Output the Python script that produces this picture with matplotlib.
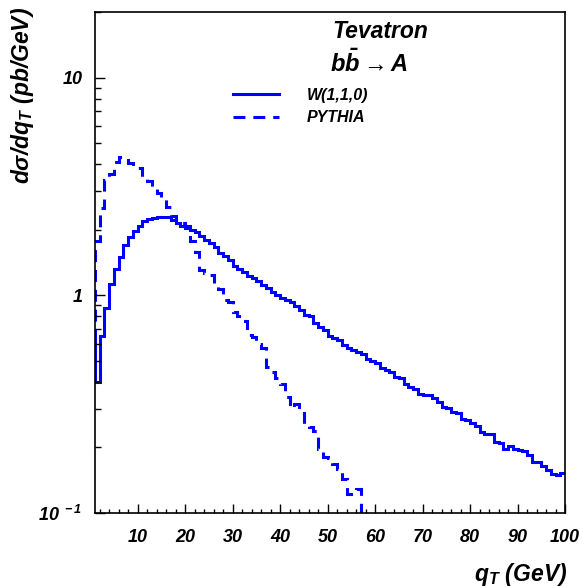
import numpy as np
import matplotlib
matplotlib.use("Agg")
import matplotlib.pyplot as plt
from matplotlib.ticker import FixedLocator, MultipleLocator, LogLocator, NullFormatter, FixedFormatter
from matplotlib.lines import Line2D

plt.rcParams['font.family'] = ['Liberation Sans', 'DejaVu Sans']
plt.rcParams['font.weight'] = 'bold'
plt.rcParams['font.style'] = 'italic'
plt.rcParams['mathtext.fontset'] = 'custom'
plt.rcParams['mathtext.rm'] = 'Liberation Sans:italic:bold'
plt.rcParams['mathtext.it'] = 'Liberation Sans:italic:bold'
plt.rcParams['mathtext.bf'] = 'Liberation Sans:italic:bold'

# bin edges in q_T (GeV), 1 GeV bins
edges_w = np.arange(0, 101)
# W(1,1,0) resummed, per 1-GeV bin starting at q_T = 0
w110 = [0.65, 0.40, 0.65, 0.87, 1.13, 1.32, 1.50, 1.70, 1.86, 1.98,
        2.09, 2.20, 2.24, 2.27, 2.29, 2.29, 2.29, 2.22, 2.14, 2.09,
        2.03, 1.99, 1.96, 1.88, 1.80, 1.74, 1.66, 1.56, 1.51, 1.45,
        1.36, 1.32, 1.28, 1.23, 1.20, 1.16, 1.11, 1.08, 1.03, 1.00,
        0.976, 0.948, 0.929, 0.897, 0.856, 0.812, 0.801, 0.745, 0.717, 0.692,
        0.652, 0.634, 0.622, 0.594, 0.574, 0.562, 0.546, 0.535, 0.507, 0.498,
        0.488, 0.461, 0.455, 0.445, 0.421, 0.418, 0.393, 0.381, 0.373, 0.352,
        0.350, 0.347, 0.336, 0.322, 0.307, 0.302, 0.291, 0.289, 0.271, 0.267,
        0.259, 0.252, 0.235, 0.231, 0.231, 0.213, 0.209, 0.197, 0.204, 0.196,
        0.194, 0.192, 0.184, 0.172, 0.172, 0.165, 0.158, 0.151, 0.150, 0.153]

# PYTHIA, per 1-GeV bin starting at q_T = 0
pythia = [0.65, 1.77, 2.52, 3.39, 3.60, 4.10, 4.32, 4.26, 4.06, 4.00,
          3.85, 3.50, 3.35, 3.10, 2.95, 2.77, 2.54, 2.31, 2.20, 2.15,
          2.08, 1.77, 1.58, 1.30, 1.26, 1.24, 1.10, 1.07, 0.95, 0.93,
          0.84, 0.80, 0.76, 0.66, 0.645, 0.595, 0.57, 0.47, 0.445, 0.415,
          0.393, 0.342, 0.302, 0.318, 0.289, 0.252, 0.249, 0.239, 0.197, 0.181,
          0.178, 0.168, 0.160, 0.144, 0.122, 0.122, 0.129, 0.085]
edges_p = np.arange(0, len(pythia) + 1)

labels = ['W(1,1,0)', 'PYTHIA']
xticks = [10, 20, 30, 40, 50, 60, 70, 80, 90, 100]
yticks = [0.1, 1, 10]
yticklabels = [r'$10^{\ -1}$', '1', '10']

blue = '#0000ff'
lw = 2.2
dash = (0, (3.9, 2.6))

fig = plt.figure(figsize=(5.84, 5.87), dpi=100)
ax = fig.add_axes([95/584, 74/587, 470/584, 501/587])

ax.stairs(w110, edges_w, baseline=None, color=blue, lw=lw, label=labels[0])
ax.stairs(pythia, edges_p, baseline=None, color=blue, lw=lw, linestyle=dash, label=labels[1])

ax.set_yscale('log')
ax.set_xlim(1, 100)
ax.set_ylim(0.1, 20)

ax.xaxis.set_major_locator(FixedLocator(xticks))
ax.xaxis.set_minor_locator(MultipleLocator(2))
ax.yaxis.set_major_locator(FixedLocator(yticks))
ax.yaxis.set_major_formatter(FixedFormatter(yticklabels))
ax.yaxis.set_minor_locator(LogLocator(base=10, subs=np.arange(2, 10)))
ax.yaxis.set_minor_formatter(NullFormatter())

ax.tick_params(axis='x', which='major', direction='in', length=6.5, width=1.0, pad=11.5, labelsize=13)
ax.tick_params(axis='x', which='minor', direction='in', length=3.2, width=1.0)
ax.tick_params(axis='y', which='major', direction='in', length=7.2, width=1.0, pad=9, labelsize=13)
ax.tick_params(axis='y', which='minor', direction='in', length=4.3, width=1.0)
for lab in ax.get_xticklabels() + ax.get_yticklabels():
    lab.set_fontweight('bold'); lab.set_fontstyle('italic')
for s in ax.spines.values():
    s.set_linewidth(1.2)

# axis titles (ROOT-style placement)
fig.text(567/584, 1 - 574/587, r'q$_T$ (GeV)', ha='right', va='center', fontsize=16.5,
         fontweight='bold', fontstyle='italic')
fig.text(23/584, 1 - 7/587, r'dσ/dq$_T$ (pb/GeV)', ha='center', va='top', rotation=90,
         fontsize=16.5, fontweight='bold', fontstyle='italic')

fig.text(332/584, 1 - 31/587, 'Tevatron', ha='left', va='center', fontsize=16.5,
         fontweight='bold', fontstyle='italic')
fig.text(330/584, 1 - 63/587, r'$b\bar{b} \rightarrow A$', ha='left', va='center', fontsize=17)

handles = [Line2D([], [], color=blue, lw=lw),
           Line2D([], [], color=blue, lw=lw, linestyle=dash)]
fig.legend(handles, labels, loc='upper left', bbox_to_anchor=(233/584, 1 - 88/587),
           frameon=False, handlelength=2.9, handletextpad=1.7,
           labelspacing=0.45, borderpad=0, borderaxespad=0,
           prop={'size': 11.5, 'weight': 'bold', 'style': 'italic'})

fig.savefig('out.png', dpi=100)
